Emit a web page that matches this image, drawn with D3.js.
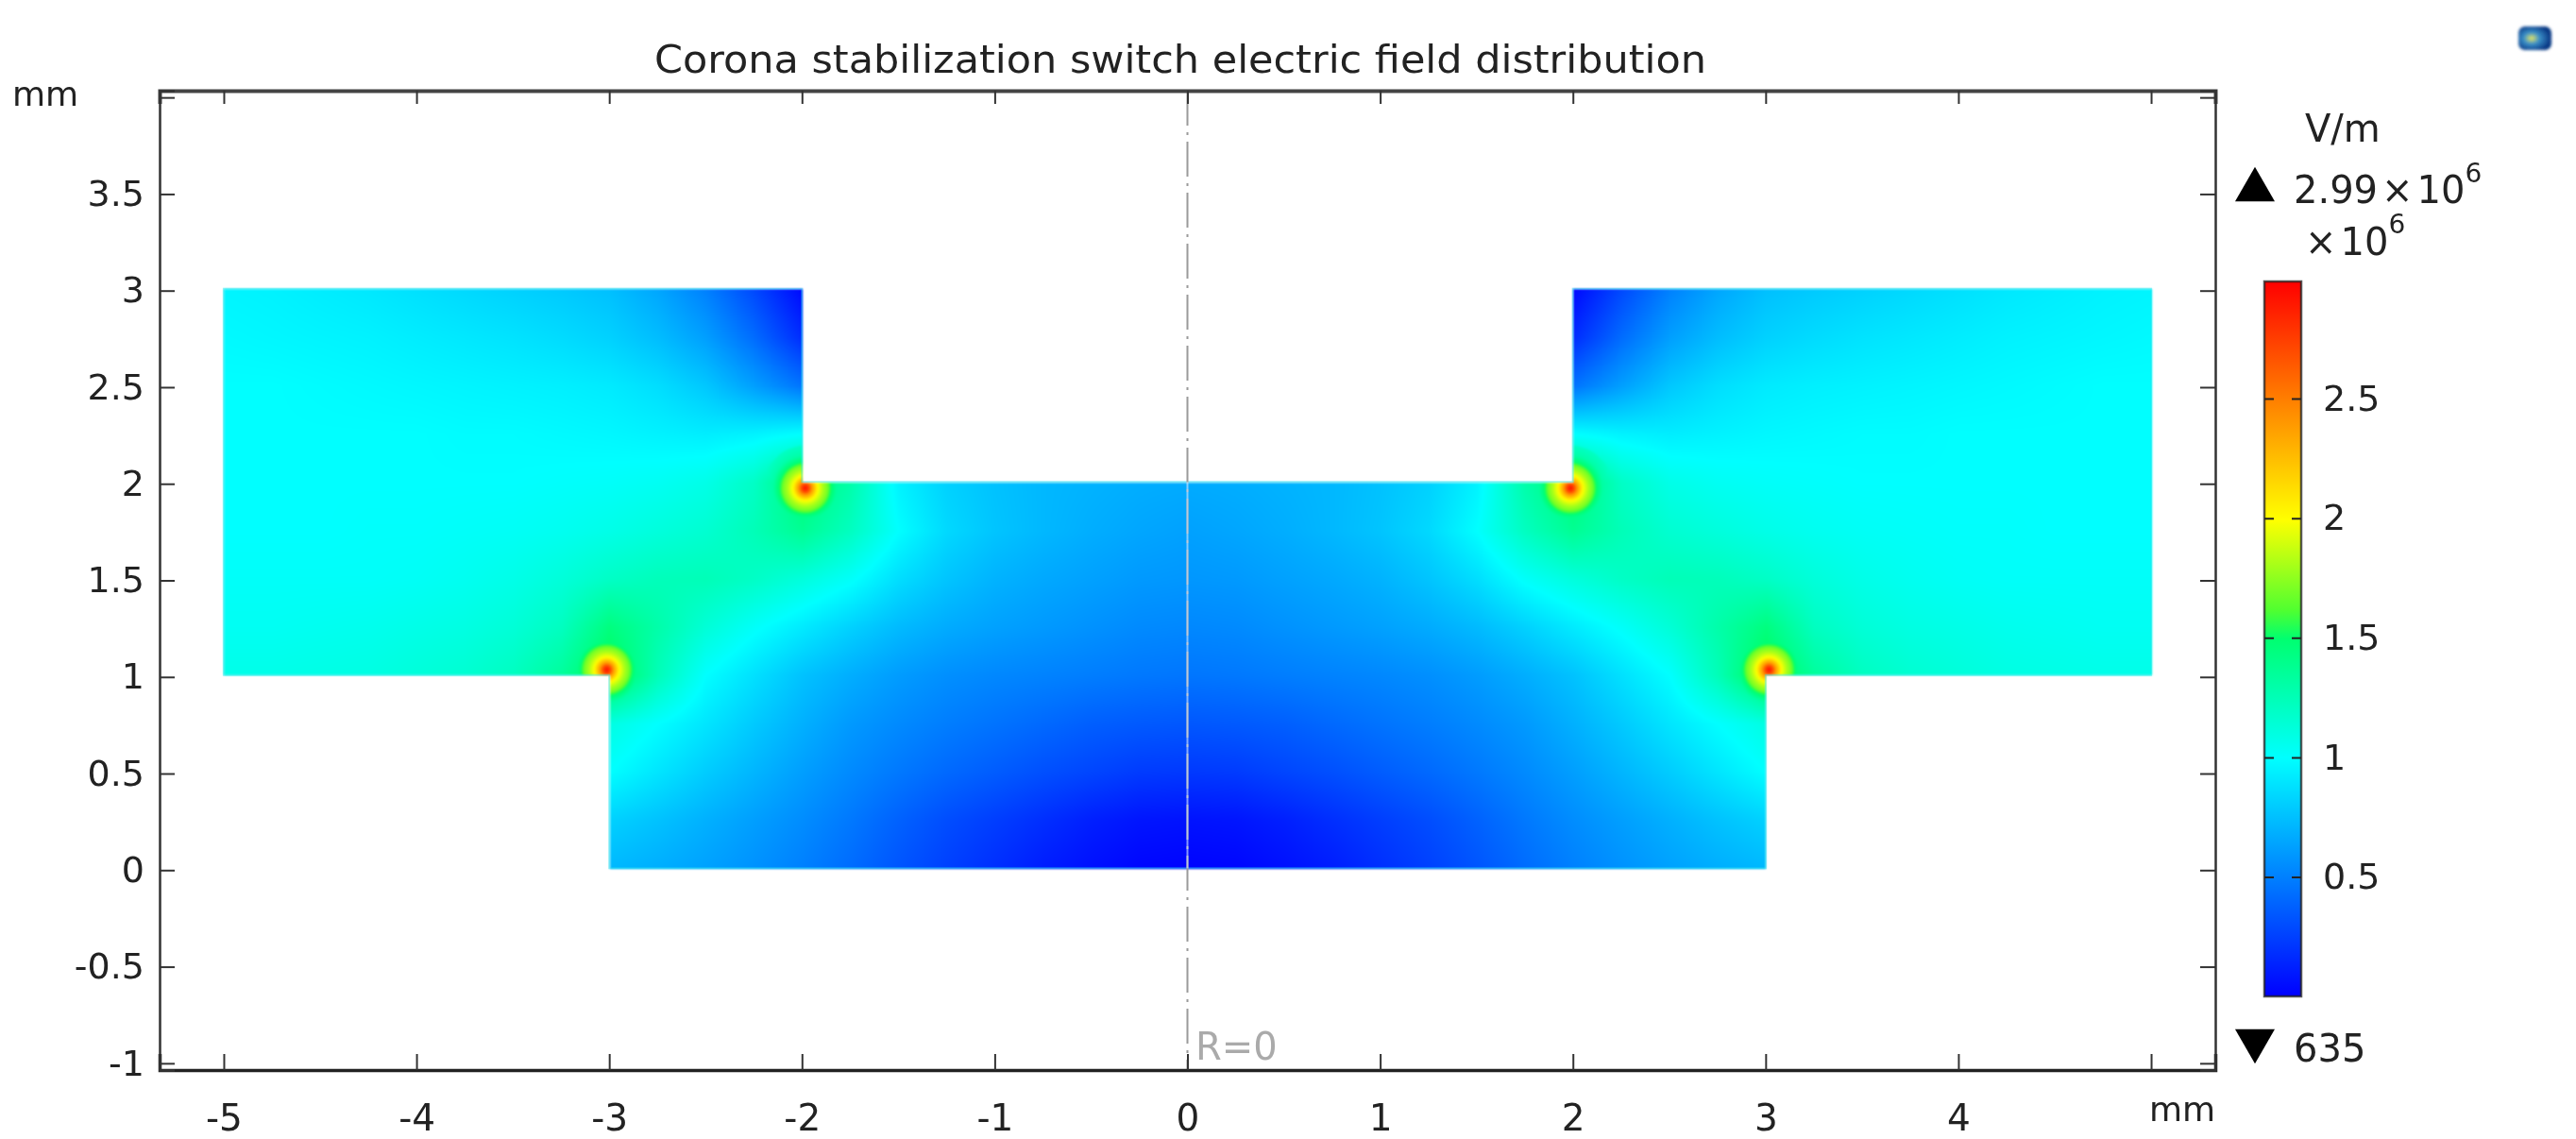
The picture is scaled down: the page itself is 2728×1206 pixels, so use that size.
<!DOCTYPE html>
<html>
<head>
<meta charset="utf-8">
<script src="https://cdn.jsdelivr.net/npm/d3@7/dist/d3.min.js"></script>
<style>
  html, body { margin: 0; padding: 0; background: #fff; }
  #wrap { position: relative; width: 2728px; height: 1206px; overflow: hidden; }
  #field { position: absolute; left: 0; top: -2px; filter: blur(1.3px); }
  svg { position: absolute; left: 0; top: 0; }
  text { font-family: "DejaVu Sans", sans-serif; fill: #222; }
</style>
</head>
<body>
<div id="wrap">
  <canvas id="field" width="2728" height="1206"></canvas>
  <svg id="chart" width="2728" height="1206"></svg>
</div>
<script>
const W = 2728, H = 1206

// tick labels, the 5 of the x axis gives way to the unit
const xTicks = [-5, -4, -3, -2, -1, 0, 1, 2, 3, 4, 5]
const xLabels = ['-5', '-4', '-3', '-2', '-1', '0', '1', '2', '3', '4', '']
const yTicks = [-1, -0.5, 0, 0.5, 1, 1.5, 2, 2.5, 3, 3.5, 4]
const yLabels = ['-1', '-0.5', '0', '0.5', '1', '1.5', '2', '2.5', '3', '3.5', '']
const barTicks = [0.5, 1, 1.5, 2, 2.5]
const barMin = 0.000635, barMax = 2.99 // x10^6 V/m

// colour table of the legend
const colorValues = [0, 0.5, 1, 1.5, 1.62, 2, 2.5, 3]
const colorStops = ['#0000ff', '#0080ff', '#00ffff', '#00ff70', '#50ff30', '#ffff00', '#ff8000', '#ff0000']

// outline of the switch gap, mm
const outlineR = [-5, -2, -2, 2, 2, 5, 5, 3, 3, -3, -3, -5]
const outlineZ = [3, 3, 2, 2, 3, 3, 1, 1, 0, 0, 1, 1]

const fieldR = [-5, -4.75, -4.5, -4.25, -4, -3.75, -3.5, -3.25, -3, -2.75, -2.5, -2.25, -2, -1.75, -1.5, -1.25, -1, -0.75, -0.5, -0.25, 0]
const fieldZ = [3, 2.75, 2.5, 2.25, 2, 1.75, 1.5, 1.25, 1, 0.75, 0.5, 0.25, 0]
const _ = null
const fieldZ300 = [.96, .95, .93, .91, .88, .85, .82, .79, .75, .65, .50, .28, .03, _, _, _, _, _, _, _, _]
const fieldZ275 = [.98, .97, .96, .95, .93, .91, .89, .86, .82, .74, .62, .42, .17, _, _, _, _, _, _, _, _]
const fieldZ250 = [1.0, 1.0, .99, .98, .97, .96, .95, .94, .92, .87, .78, .62, .45, _, _, _, _, _, _, _, _]
const fieldZ225 = [1.0, 1.0, 1.0, 1.0, 1.0, .99, .99, .98, .97, .95, .93, .95, 1.0, _, _, _, _, _, _, _, _]
const fieldZ200 = [1.0, 1.0, 1.0, 1.0, 1.0, 1.0, 1.0, 1.01, 1.02, 1.04, 1.08, 1.2, 1.5, 1.3, .95, .82, .76, .72, .70, .68, .67]
const fieldZ175 = [1.0, 1.0, 1.0, 1.01, 1.01, 1.02, 1.03, 1.05, 1.08, 1.12, 1.16, 1.25, 1.38, 1.22, 1.0, .85, .77, .72, .68, .65, .63]
const fieldZ150 = [1.02, 1.02, 1.02, 1.02, 1.03, 1.05, 1.08, 1.13, 1.2, 1.24, 1.25, 1.2, 1.12, 1.02, .87, .77, .70, .66, .63, .60, .59]
const fieldZ125 = [1.04, 1.04, 1.05, 1.06, 1.08, 1.1, 1.14, 1.22, 1.45, 1.3, 1.14, 1.02, .92, .82, .73, .67, .63, .60, .57, .54, .53]
const fieldZ100 = [1.08, 1.08, 1.09, 1.1, 1.13, 1.16, 1.22, 1.35, 1.6, 1.25, 1.0, .88, .76, .68, .61, .56, .53, .51, .49, .47, .46]
const fieldZ075 = [_, _, _, _, _, _, _, _, 1.1, 1.0, .9, .79, .69, .60, .54, .49, .45, .41, .37, .35, .34]
const fieldZ050 = [_, _, _, _, _, _, _, _, 1.0, .9, .8, .71, .62, .54, .47, .41, .36, .31, .27, .23, .22]
const fieldZ025 = [_, _, _, _, _, _, _, _, .82, .76, .69, .62, .55, .47, .38, .30, .24, .18, .12, .08, .07]
const fieldZ000 = [_, _, _, _, _, _, _, _, .72, .68, .63, .57, .50, .42, .33, .25, .18, .11, .06, .02, .01]
const fieldRows = [fieldZ300, fieldZ275, fieldZ250, fieldZ225, fieldZ200, fieldZ175, fieldZ150, fieldZ125, fieldZ100, fieldZ075, fieldZ050, fieldZ025, fieldZ000]

// the peaks at the two electrode corners, field against distance from the peak (mm)
const peakDist = [0, 0.02, 0.035, 0.065, 0.095, 0.115, 0.135, 0.17, 0.22]
const peakField = [2.95, 2.7, 2.4, 2.0, 1.8, 1.7, 1.5, 1.3, 1.2]
const peakR = [-1.985, -3.015]
const peakZ = [1.97, 1.03]

const x = d3.scaleLinear().domain([-5.333, 5.333]).range([169, 2346])
const y = d3.scaleLinear().domain([-1.035, 4.035]).range([1133, 96])
const color = d3.scaleLinear().domain(colorValues).range(colorStops).clamp(true)
const bar = d3.scaleLinear().domain([barMin, barMax]).range([1055, 298])
const colR = d3.scaleLinear().domain([-5, 0]).range([0, fieldR.length - 1])
const rowZ = d3.scaleLinear().domain([3, 0]).range([0, fieldZ.length - 1])
const peak = d3.scaleLinear().domain(peakDist).range(peakField).clamp(true)

const drawField = () => {
  const ctx = document.getElementById('field').getContext('2d')
  const img = ctx.createImageData(W, H)
  const x0 = Math.floor(x(-5)), x1 = Math.ceil(x(5))
  const y0 = Math.floor(y(3)), y1 = Math.ceil(y(0))
  for (let py = y0; py <= y1; py++) {
    const z = y.invert(py)
    if (z < 0 || z > 3) continue
    const rowPos = rowZ(z)
    const i0 = Math.min(Math.floor(rowPos), fieldZ.length - 2)
    const fz = rowPos - i0
    for (let px = x0; px <= x1; px++) {
      const r = -Math.abs(x.invert(px))
      if (r < -5) continue
      const colPos = colR(r)
      const j0 = Math.min(Math.floor(colPos), fieldR.length - 2)
      const fr = colPos - j0
      const a = fieldRows[i0][j0], b = fieldRows[i0][j0 + 1]
      const c = fieldRows[i0 + 1][j0], d = fieldRows[i0 + 1][j0 + 1]
      if (a === null || b === null || c === null || d === null) continue
      let v = (a * (1 - fr) + b * fr) * (1 - fz) + (c * (1 - fr) + d * fr) * fz
      peakR.forEach((pr, k) => {
        const dist = Math.hypot(r - pr, z - peakZ[k])
        if (dist < 0.22) v = Math.max(v, peak(dist))
      })
      const rgb = d3.rgb(color(v))
      const at = (py * W + px) * 4
      img.data[at] = rgb.r
      img.data[at + 1] = rgb.g
      img.data[at + 2] = rgb.b
      img.data[at + 3] = 255
    }
  }
  ctx.putImageData(img, 0, 0)
}
drawField()

const svg = d3.select('#chart')

// outline and symmetry axis
const outline = d3.line().x(d => x(d[0])).y(d => y(d[1]))
svg.append('path')
  .attr('d', outline(outlineR.map((r, i) => [r, outlineZ[i]])) + 'Z')
  .attr('transform', 'translate(0,-2)')
  .attr('fill', 'none')
  .attr('stroke', '#00e0e8')
  .attr('stroke-opacity', 0.35)
  .attr('stroke-width', 2)

svg.append('line')
  .attr('x1', x(0)).attr('x2', x(0))
  .attr('y1', y.range()[1]).attr('y2', y.range()[0])
  .attr('stroke', '#9a9a9a')
  .attr('stroke-width', 2)
  .attr('stroke-dasharray', '37 7 3 7')
svg.append('line')
  .attr('x1', x(0)).attr('x2', x(0))
  .attr('y1', y(2) - 2).attr('y2', y(0) - 2)
  .attr('stroke', '#cfe4ff')
  .attr('stroke-opacity', 0.65)
  .attr('stroke-width', 2)

// frame and axes
const fontTick = 38
const xAxis = svg.append('g')
  .attr('transform', `translate(0,${y.range()[0]})`)
  .call(d3.axisBottom(x).tickValues(xTicks).tickFormat((d, i) => xLabels[i]).tickSize(-17).tickPadding(36))
xAxis.selectAll('text').attr('font-size', 39)
const xAxisTop = svg.append('g')
  .attr('transform', `translate(0,${y.range()[1]})`)
  .call(d3.axisTop(x).tickValues(xTicks).tickFormat('').tickSize(-14))
const yAxis = svg.append('g')
  .attr('transform', `translate(${x.range()[0]},0)`)
  .call(d3.axisLeft(y).tickValues(yTicks).tickFormat((d, i) => yLabels[i]).tickSize(-16).tickPadding(16))
yAxis.selectAll('text').attr('font-size', fontTick)
const yAxisRight = svg.append('g')
  .attr('transform', `translate(${x.range()[1]},0)`)
  .call(d3.axisRight(y).tickValues(yTicks).tickFormat('').tickSize(-16))
svg.selectAll('.domain').attr('stroke', '#333').attr('stroke-width', 2.5)
svg.selectAll('.tick line').attr('stroke', '#333').attr('stroke-width', 2)
xAxis.select('.domain').attr('stroke', '#222').attr('stroke-width', 3.5)
xAxisTop.select('.domain').attr('stroke', '#444').attr('stroke-width', 4)
svg.selectAll('.tick text').style('font-family', '"DejaVu Sans", sans-serif').attr('fill', '#222')

const label = (text, px, py, size, anchor) => svg.append('text')
  .attr('x', px).attr('y', py)
  .attr('font-size', size)
  .attr('text-anchor', anchor || 'start')
  .text(text)

label('Corona stabilization switch electric field distribution', 693, 77, 40)
  .attr('textLength', 1114)
  .attr('lengthAdjust', 'spacingAndGlyphs')
label('mm', 13, 112, 36)
label('mm', 2276, 1187, 36)
label('R=0', 1266, 1122, 40).style('fill', '#aaa')

// legend
const defs = svg.append('defs')
const barGrad = defs.append('linearGradient')
  .attr('id', 'barGrad')
  .attr('x1', 0).attr('x2', 0).attr('y1', 1).attr('y2', 0)
barGrad.selectAll('stop')
  .data(colorValues)
  .enter()
  .append('stop')
  .attr('offset', d => d / 3)
  .attr('stop-color', d => color(d))

svg.append('rect')
  .attr('x', 2398).attr('width', 39)
  .attr('y', bar(barMax)).attr('height', bar(barMin) - bar(barMax))
  .attr('fill', 'url(#barGrad)')
  .attr('stroke', '#222')
  .attr('stroke-opacity', 0.75)
  .attr('stroke-width', 2.5)

const barAxis = svg.append('g')
  .attr('transform', 'translate(2437,0)')
  .call(d3.axisRight(bar).tickValues(barTicks).tickFormat(d => String(d)).tickSize(0).tickPadding(23))
barAxis.select('.domain').remove()
barAxis.selectAll('text').attr('font-size', fontTick).style('font-family', '"DejaVu Sans", sans-serif').attr('fill', '#222')
barAxis.selectAll('.tick').append('path')
  .attr('d', 'M-39,0h10M-10,0h10')
  .attr('stroke', '#222')
  .attr('stroke-width', 2)

const tri = d3.symbol().type(d3.symbolTriangle).size(764)
svg.append('path').attr('d', tri()).attr('transform', 'translate(2388,201)').attr('fill', '#000')
svg.append('path').attr('d', tri()).attr('transform', 'translate(2388,1102) rotate(180)').attr('fill', '#000')

label('V/m', 2441, 150, 40)

const maxLabel = label('2.99', 2429, 215, 40)
maxLabel.append('tspan').attr('dx', 4).text('×')
maxLabel.append('tspan').attr('dx', 4).text('10')
maxLabel.append('tspan').attr('dy', -22).attr('font-size', 28).text('6')
const unitLabel = label('×', 2441, 270, 40)
unitLabel.append('tspan').attr('dx', 4).text('10')
unitLabel.append('tspan').attr('dy', -23).attr('font-size', 28).text('6')
label('635', 2429, 1124, 40)

// little logo in the top corner
defs.append('filter').attr('id', 'soft').append('feGaussianBlur').attr('stdDeviation', 1.5)
const logoGrad = defs.append('radialGradient').attr('id', 'logoGrad').attr('cx', 0.4).attr('cy', 0.5).attr('r', 0.6)
logoGrad.append('stop').attr('offset', 0).attr('stop-color', '#e8e860')
logoGrad.append('stop').attr('offset', 0.4).attr('stop-color', '#3a90c8')
logoGrad.append('stop').attr('offset', 1).attr('stop-color', '#06307f')
svg.append('rect')
  .attr('x', 2667).attr('y', 28)
  .attr('width', 35).attr('height', 25)
  .attr('rx', 7)
  .attr('fill', 'url(#logoGrad)')
  .attr('filter', 'url(#soft)')
</script>
</body>
</html>
